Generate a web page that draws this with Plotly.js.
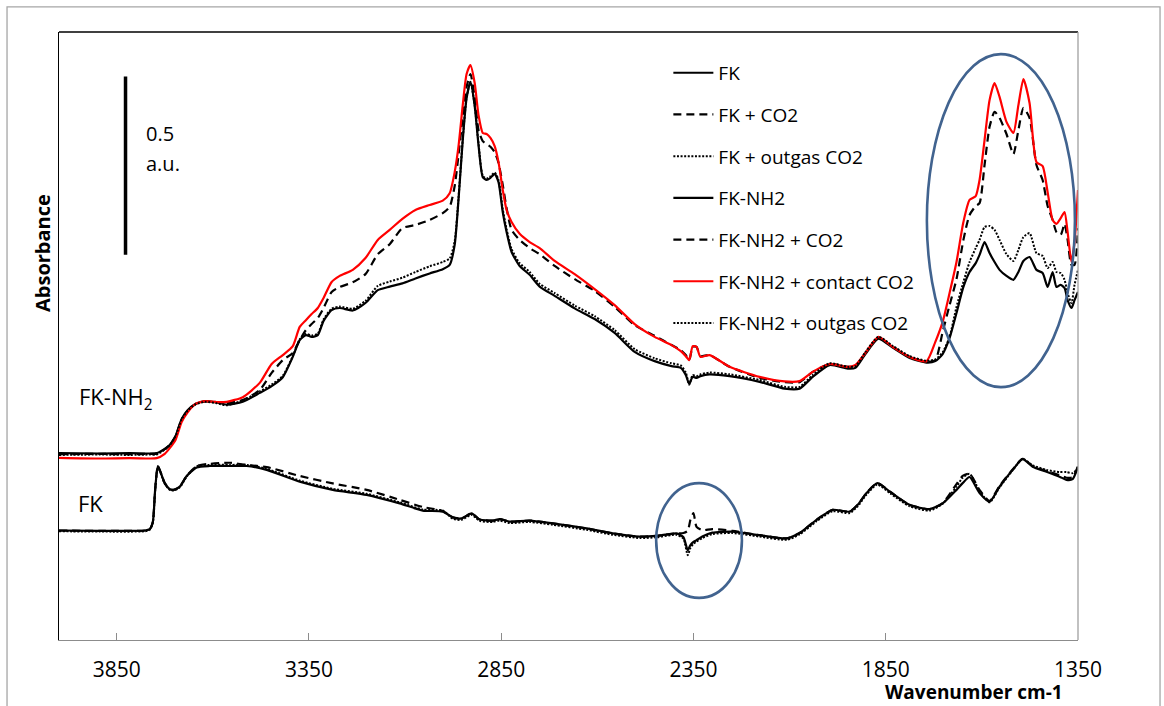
<!DOCTYPE html>
<html>
<head>
<meta charset="utf-8">
<script src="https://cdn.plot.ly/plotly-3.0.1.min.js"></script>
<style>html,body{margin:0;padding:0;background:#fff}#chart{width:1164px;height:706px}</style>
</head>
<body>
<div id="chart"></div>
<script>
// ---- Data: upper group (FK-NH2 samples) ----
const wnUpper = [4000,3894,3816,3764,3746,3725,3712,3697,3681,3665,3645,3619,3590,3564,3522,3478,3447,3418,3392,3374,3358,3343,3327,3312,3291,3270,3236,3203,3171,3140,3107,3073,3036,3002,2984,2971,2961,2950,2940,2930,2919,2909,2898,2888,2878,2867,2857,2846,2836,2823,2802,2776,2750,2711,2659,2607,2555,2503,2451,2407,2383,2370,2361,2352,2342,2332,2308,2256,2178,2113,2074,2040,1996,1949,1929,1903,1869,1832,1788,1744,1721,1702,1684,1666,1648,1632,1616,1606,1593,1580,1567,1554,1536,1518,1505,1492,1476,1458,1442,1429,1416,1406,1395,1385,1377,1367,1359,1350];

const fkNH2 = [0.524,0.523,0.524,0.523,0.524,0.536,0.547,0.572,0.620,0.645,0.662,0.670,0.666,0.660,0.668,0.693,0.712,0.737,0.794,0.841,0.855,0.850,0.855,0.895,0.925,0.931,0.924,0.945,0.981,0.991,1.000,1.014,1.028,1.040,1.052,1.108,1.235,1.402,1.520,1.565,1.498,1.388,1.298,1.290,1.296,1.307,1.284,1.200,1.144,1.088,1.049,1.024,0.991,0.965,0.930,0.900,0.861,0.808,0.782,0.768,0.763,0.743,0.718,0.738,0.735,0.740,0.745,0.740,0.724,0.705,0.705,0.738,0.771,0.761,0.763,0.802,0.845,0.820,0.791,0.778,0.782,0.802,0.847,0.917,0.990,1.032,1.057,1.080,1.116,1.085,1.060,1.038,1.021,1.010,1.032,1.063,1.074,1.038,1.029,0.990,1.032,0.990,0.996,0.987,0.953,0.931,0.953,0.976];

const fkNH2CO2 = [0.521,0.522,0.521,0.522,0.522,0.535,0.547,0.570,0.618,0.643,0.662,0.669,0.667,0.664,0.673,0.701,0.749,0.785,0.805,0.841,0.869,0.886,0.903,0.931,0.976,0.990,1.003,1.026,1.082,1.110,1.155,1.164,1.178,1.197,1.215,1.273,1.360,1.467,1.551,1.587,1.523,1.430,1.399,1.391,1.383,1.368,1.338,1.276,1.211,1.150,1.122,1.099,1.082,1.049,1.012,0.979,0.934,0.883,0.853,0.827,0.813,0.799,0.785,0.822,0.822,0.796,0.799,0.766,0.735,0.723,0.723,0.752,0.774,0.766,0.768,0.805,0.847,0.822,0.794,0.780,0.785,0.864,0.939,1.012,1.122,1.192,1.217,1.225,1.332,1.439,1.481,1.464,1.419,1.363,1.430,1.492,1.464,1.332,1.290,1.217,1.178,1.144,1.136,1.167,1.122,1.052,1.052,1.155];

const fkNH2Contact = [0.511,0.509,0.510,0.509,0.510,0.522,0.538,0.561,0.611,0.639,0.662,0.670,0.667,0.668,0.681,0.721,0.774,0.799,0.824,0.878,0.897,0.914,0.931,0.959,1.004,1.021,1.038,1.071,1.122,1.150,1.181,1.206,1.220,1.232,1.253,1.312,1.385,1.500,1.587,1.612,1.562,1.472,1.422,1.419,1.408,1.385,1.340,1.262,1.206,1.172,1.139,1.116,1.099,1.063,1.026,0.984,0.939,0.886,0.850,0.827,0.810,0.796,0.785,0.824,0.822,0.794,0.799,0.766,0.738,0.725,0.726,0.752,0.774,0.766,0.771,0.805,0.850,0.822,0.794,0.782,0.836,0.892,0.973,1.060,1.172,1.234,1.245,1.290,1.402,1.514,1.562,1.523,1.453,1.422,1.500,1.573,1.506,1.340,1.329,1.256,1.178,1.167,1.183,1.200,1.144,1.060,1.116,1.262];

const fkNH2Outgas = [0.519,0.520,0.519,0.520,0.520,0.534,0.546,0.571,0.619,0.644,0.661,0.668,0.664,0.658,0.672,0.697,0.716,0.741,0.796,0.843,0.858,0.854,0.859,0.899,0.929,0.935,0.929,0.951,0.993,1.005,1.016,1.032,1.048,1.060,1.070,1.118,1.240,1.405,1.522,1.565,1.500,1.392,1.302,1.294,1.300,1.311,1.290,1.208,1.152,1.096,1.057,1.032,0.999,0.973,0.938,0.908,0.869,0.816,0.790,0.776,0.770,0.750,0.716,0.743,0.740,0.745,0.750,0.745,0.729,0.710,0.710,0.743,0.776,0.766,0.768,0.807,0.850,0.825,0.796,0.783,0.787,0.807,0.850,0.934,1.004,1.060,1.099,1.122,1.158,1.161,1.150,1.122,1.082,1.063,1.094,1.130,1.141,1.085,1.077,1.043,1.060,1.032,1.029,1.010,0.973,0.945,0.996,1.038];

// ---- Data: lower group (FK samples) ----
const wnLower = [4000,3894,3777,3764,3756,3750,3743,3736,3725,3712,3702,3686,3668,3642,3608,3556,3512,3460,3374,3288,3200,3114,3054,3002,2976,2953,2927,2906,2872,2854,2828,2776,2716,2628,2560,2490,2446,2394,2376,2365,2358,2350,2342,2327,2301,2249,2178,2108,2074,2030,1988,1944,1923,1900,1872,1838,1788,1736,1702,1666,1650,1632,1606,1580,1554,1520,1494,1468,1432,1398,1380,1364,1350];

const fk = [0.307,0.306,0.307,0.311,0.331,0.421,0.488,0.471,0.440,0.423,0.421,0.430,0.460,0.484,0.488,0.488,0.488,0.477,0.444,0.421,0.407,0.383,0.363,0.360,0.344,0.341,0.355,0.338,0.335,0.339,0.332,0.335,0.327,0.313,0.299,0.290,0.292,0.299,0.288,0.252,0.266,0.275,0.280,0.290,0.301,0.304,0.294,0.285,0.300,0.337,0.365,0.360,0.379,0.412,0.440,0.415,0.379,0.367,0.383,0.421,0.440,0.457,0.412,0.388,0.430,0.477,0.507,0.486,0.472,0.458,0.449,0.451,0.486];

const fkCO2 = [0.307,0.306,0.307,0.311,0.331,0.421,0.488,0.471,0.440,0.423,0.421,0.430,0.460,0.488,0.494,0.497,0.491,0.485,0.460,0.439,0.421,0.393,0.373,0.362,0.344,0.341,0.355,0.338,0.335,0.339,0.332,0.335,0.327,0.313,0.299,0.290,0.292,0.299,0.300,0.306,0.337,0.356,0.317,0.308,0.311,0.306,0.294,0.285,0.300,0.337,0.365,0.360,0.379,0.412,0.440,0.415,0.379,0.367,0.384,0.437,0.460,0.466,0.421,0.390,0.432,0.478,0.508,0.488,0.474,0.462,0.455,0.456,0.488];

const fkOutgas = [0.305,0.304,0.305,0.309,0.329,0.419,0.486,0.469,0.438,0.421,0.419,0.428,0.458,0.487,0.491,0.491,0.491,0.480,0.447,0.424,0.410,0.386,0.366,0.363,0.340,0.337,0.351,0.334,0.331,0.335,0.328,0.331,0.323,0.309,0.295,0.286,0.288,0.295,0.284,0.238,0.258,0.270,0.276,0.286,0.297,0.300,0.290,0.281,0.296,0.333,0.361,0.356,0.375,0.408,0.436,0.411,0.375,0.363,0.382,0.430,0.455,0.466,0.418,0.386,0.428,0.476,0.508,0.490,0.477,0.471,0.471,0.468,0.482];

const tickValues = [3850, 3350, 2850, 2350, 1850, 1350];
const tickLabels = ['3850', '3350', '2850', '2350', '1850', '1350'];

const seriesNames = ['FK', 'FK + CO2', 'FK + outgas CO2', 'FK-NH2', 'FK-NH2 + CO2', 'FK-NH2 + contact CO2', 'FK-NH2 + outgas CO2'];

// ---- Styles ----
const FONT = '"Open Sans", "Liberation Sans", sans-serif';
const solid = {color: '#000', width: 2.2, dash: 'solid'};
const dashed = {color: '#000', width: 2.2, dash: '8px,5px'};
const dotted = {color: '#000', width: 2, dash: '2px,1.6px'};
const red = {color: '#ff0000', width: 2.2, dash: 'solid'};

function tr(x, y, name, line, i) {
  return {x: x, y: y, name: name, type: 'scatter', mode: 'lines', line: Object.assign({shape: 'spline', smoothing: 0.6}, line),
          legendgroup: 'g' + i, hoverinfo: 'skip'};
}

const traces = [
  tr(wnLower, fk, seriesNames[0], solid, 0),
  tr(wnLower, fkCO2, seriesNames[1], dashed, 1),
  tr(wnLower, fkOutgas, seriesNames[2], dotted, 2),
  tr(wnUpper, fkNH2, seriesNames[3], solid, 3),
  tr(wnUpper, fkNH2CO2, seriesNames[4], dashed, 4),
  tr(wnUpper, fkNH2Contact, seriesNames[5], red, 5),
  tr(wnUpper, fkNH2Outgas, seriesNames[6], dotted, 6)
];

const ellipseColor = '#41638f';

const layout = {
  width: 1164, height: 706,
  margin: {l: 59, r: 86, t: 32, b: 66},
  paper_bgcolor: '#fff', plot_bgcolor: '#fff',
  font: {family: FONT, color: '#000'},
  showlegend: true,
  legend: {x: 0.598, y: 0.964, xanchor: 'left', yanchor: 'top', traceorder: 'grouped', tracegroupgap: 14,
           font: {family: FONT, size: 19, color: '#000'}, bgcolor: 'rgba(0,0,0,0)', itemwidth: 40},
  xaxis: {range: [4000, 1350], tickmode: 'array', tickvals: tickValues, ticktext: tickLabels,
          ticks: 'inside', ticklen: 7, tickcolor: '#8c8c8c', tickwidth: 1,
          showline: true, linecolor: '#8c8c8c', linewidth: 1.3, mirror: false,
          showgrid: false, zeroline: false, automargin: false, ticklabelstandoff: 10,
          tickfont: {family: FONT, size: 21, color: '#000'}},
  yaxis: {range: [0, 1.705], showticklabels: false, ticks: '', showline: true, linecolor: '#000', linewidth: 1.3,
          showgrid: false, zeroline: false, automargin: false},
  shapes: [
    // outer chart border
    {type: 'rect', xref: 'paper', yref: 'paper', x0: -0.0510, x1: 1.0805, y0: -0.2, y1: 1.0414,
     line: {color: '#a6a6a6', width: 1.3}, fillcolor: 'rgba(0,0,0,0)', layer: 'below'},
    // plot top and right borders
    {type: 'line', xref: 'paper', yref: 'paper', x0: 0, x1: 1, y0: 1, y1: 1, line: {color: '#000', width: 1.3}},
    {type: 'line', xref: 'paper', yref: 'paper', x0: 1, x1: 1, y0: 0, y1: 1, line: {color: '#a0a0a0', width: 1.3}},
    // scale bar 0.5 a.u.
    {type: 'line', xref: 'x', yref: 'y', x0: 3827, x1: 3827, y0: 1.080, y1: 1.580, line: {color: '#000', width: 3.5}},
    // highlight ellipses
    {type: 'circle', xref: 'x', yref: 'y', x0: 1743, x1: 1358, y0: 0.709, y1: 1.643, line: {color: ellipseColor, width: 2.6}},
    {type: 'circle', xref: 'x', yref: 'y', x0: 2447, x1: 2224, y0: 0.118, y1: 0.440, line: {color: ellipseColor, width: 2.6}}
  ],
  annotations: [
    {xref: 'x', yref: 'y', x: 3780, y: 1.419, text: '0.5', showarrow: false, xanchor: 'left', yanchor: 'middle', font: {size: 20}},
    {xref: 'x', yref: 'y', x: 3780, y: 1.335, text: 'a.u.', showarrow: false, xanchor: 'left', yanchor: 'middle', font: {size: 20}},
    {xref: 'x', yref: 'y', x: 3952, y: 0.680, text: 'FK-NH<sub>2</sub>', showarrow: false, xanchor: 'left', yanchor: 'middle', font: {size: 22}},
    {xref: 'x', yref: 'y', x: 3955, y: 0.384, text: 'FK', showarrow: false, xanchor: 'left', yanchor: 'middle', font: {size: 22}},
    {xref: 'paper', yref: 'paper', x: -0.0167, y: 0.6365, text: '<b>Absorbance</b>', textangle: -90, showarrow: false,
     xanchor: 'center', yanchor: 'middle', font: {size: 20}},
    {xref: 'paper', yref: 'paper', x: 0.898, y: -0.0855, text: '<b>Wavenumber cm-1</b>', showarrow: false,
     xanchor: 'center', yanchor: 'middle', font: {size: 19}}
  ]
};

Plotly.newPlot('chart', traces, layout, {staticPlot: true, displayModeBar: false});
</script>
</body>
</html>
